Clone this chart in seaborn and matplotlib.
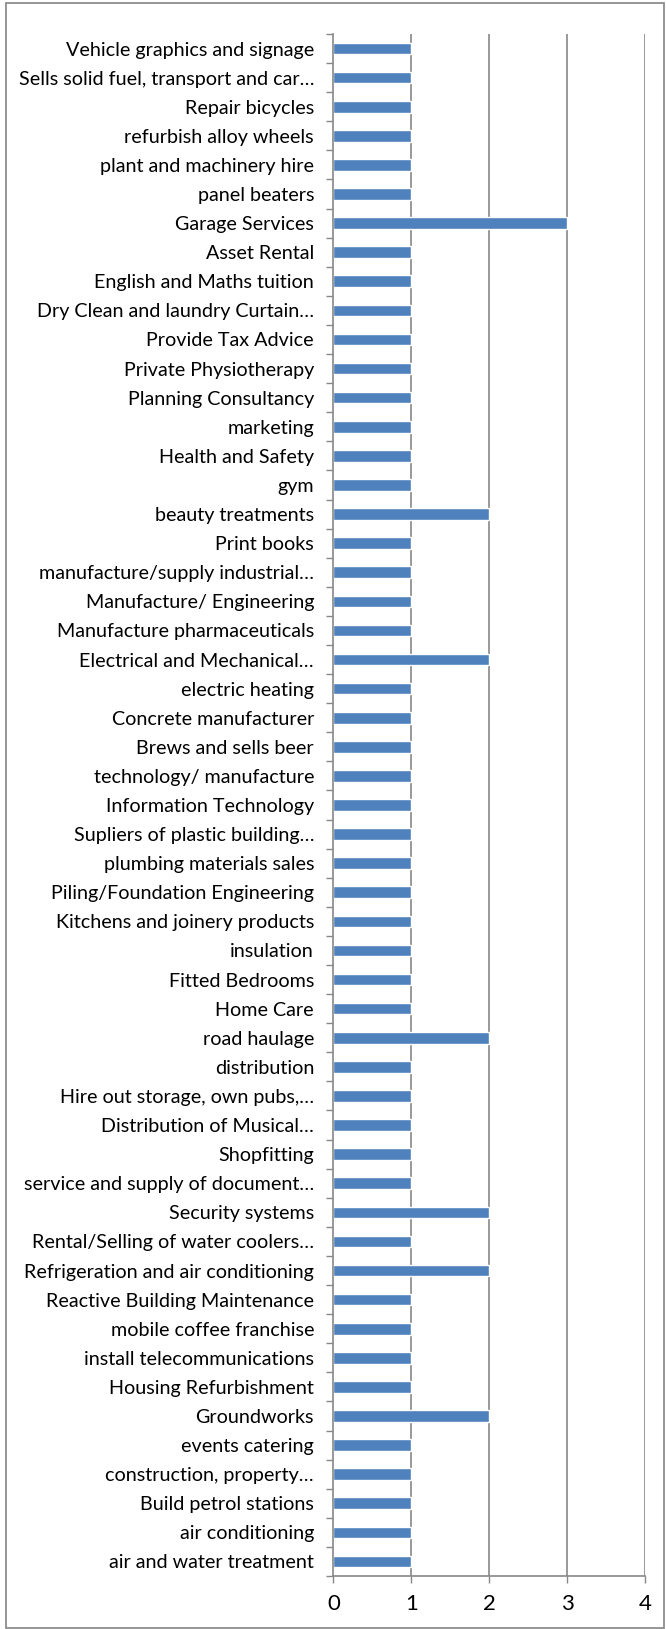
import matplotlib
matplotlib.use("Agg")
import matplotlib.pyplot as plt
import seaborn as sns
import pandas as pd
import numpy as np
from matplotlib.patches import Rectangle
from matplotlib.ticker import FixedLocator

# Business activity categories (top to bottom) and their counts
activities = [
    "Vehicle graphics and signage",
    "Sells solid fuel, transport and car…",
    "Repair bicycles",
    "refurbish alloy wheels",
    "plant and machinery hire",
    "panel beaters",
    "Garage Services",
    "Asset Rental",
    "English and Maths tuition",
    "Dry Clean and laundry Curtain…",
    "Provide Tax Advice",
    "Private Physiotherapy",
    "Planning Consultancy",
    "marketing",
    "Health and Safety",
    "gym",
    "beauty treatments",
    "Print books",
    "manufacture/supply industrial…",
    "Manufacture/ Engineering",
    "Manufacture pharmaceuticals",
    "Electrical and Mechanical…",
    "electric heating",
    "Concrete manufacturer",
    "Brews and sells beer",
    "technology/ manufacture",
    "Information Technology",
    "Supliers of plastic building…",
    "plumbing materials sales",
    "Piling/Foundation Engineering",
    "Kitchens and joinery products",
    "insulation",
    "Fitted Bedrooms",
    "Home Care",
    "road haulage",
    "distribution",
    "Hire out storage, own pubs,…",
    "Distribution of Musical…",
    "Shopfitting",
    "service and supply of document…",
    "Security systems",
    "Rental/Selling of water coolers…",
    "Refrigeration and air conditioning",
    "Reactive Building Maintenance",
    "mobile coffee franchise",
    "install telecommunications",
    "Housing Refurbishment",
    "Groundworks",
    "events catering",
    "construction, property…",
    "Build petrol stations",
    "air conditioning",
    "air and water treatment",
]
counts = [
    1, 1, 1, 1, 1, 1, 3, 1, 1, 1,
    1, 1, 1, 1, 1, 1, 2, 1, 1, 1,
    1, 2, 1, 1, 1, 1, 1, 1, 1, 1,
    1, 1, 1, 1, 2, 1, 1, 1, 1, 1,
    2, 1, 2, 1, 1, 1, 1, 2, 1, 1,
    1, 1, 1,
]
x_ticks = [0, 1, 2, 3, 4]

df = pd.DataFrame({"activity": activities, "count": counts})

sns.set_theme(style="white")
plt.rcParams["font.family"] = ["Lato", "DejaVu Sans"]

W, H, DPI = 666, 1629, 100
fig = plt.figure(figsize=(W / DPI, H / DPI), dpi=DPI)
ax = fig.add_axes([333.5 / W, 1 - 1576 / H, (645 - 333.5) / W, (1576 - 34) / H])

sns.barplot(data=df, x="count", y="activity", orient="h", color="#4F81BD",
            saturation=1, width=0.4, ax=ax)

grid_c = "#888888"
ax.set_xlim(0, 4)
ax.set_xticks(x_ticks)
ax.set_xticklabels([str(t) for t in x_ticks])
for t in x_ticks[1:]:
    ax.axvline(t, color=grid_c, lw=1.2, zorder=0)

n = len(activities)
ax.set_ylim(n - 0.5, -0.5)
ax.yaxis.set_minor_locator(FixedLocator(np.arange(-0.5, n, 1.0)))
ax.tick_params(axis="y", which="major", length=0, pad=14, labelsize=14.2,
               labelcolor="black")
ax.tick_params(axis="y", which="minor", length=5, width=1, color=grid_c,
               left=True)
ax.tick_params(axis="x", which="major", length=5, width=1, color=grid_c,
               bottom=True, labelsize=16, pad=8, labelcolor="black")

ax.set_xlabel("")
ax.set_ylabel("")
for side in ["top", "right"]:
    ax.spines[side].set_visible(False)
for side in ["left", "bottom"]:
    ax.spines[side].set_color(grid_c)
    ax.spines[side].set_linewidth(1.2)

# Outer chart border
fig.patches.append(Rectangle((6 / W, 1 / H), 658 / W, 1625 / H,
                             transform=fig.transFigure, fill=False,
                             edgecolor="#8c8c8c", lw=1.3))

fig.savefig("out.png", dpi=DPI)
